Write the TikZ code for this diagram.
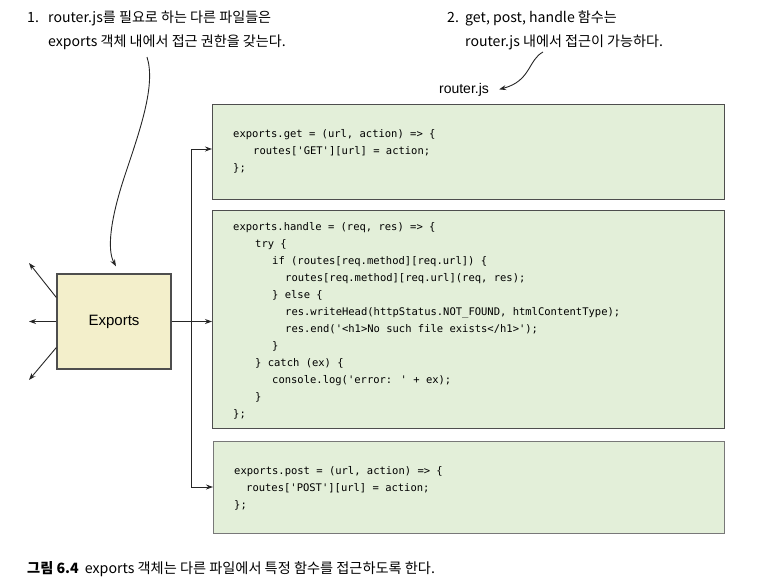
\documentclass[tikz,border=0pt]{standalone}
\usepackage{fontspec}
\usetikzlibrary{arrows.meta,calc}
\newfontfamily\krfont{Noto Sans CJK KR}
\newfontfamily\helv{Liberation Sans}
\newfontfamily\codefont{DejaVu Sans Mono}
\definecolor{boxgreen}{RGB}{227,239,217}
\definecolor{boxyellow}{RGB}{243,239,203}
\definecolor{edge}{RGB}{78,78,78}
\definecolor{postedge}{RGB}{120,120,120}
\begin{document}
\begin{tikzpicture}[x=1pt,y=-1pt,
 arr/.style={-{Stealth[length=7pt,width=5pt]}, line width=0.9pt, draw=black!85},
 wire/.style={line width=0.9pt, draw=black!85},
 codebox/.style={draw=edge, line width=1.4pt, fill=boxgreen, anchor=north west, inner sep=0pt},
 code/.style={anchor=north west, inner sep=0pt, align=left, font=\codefont\fontsize{10.5}{17}\selectfont},
 ann/.style={anchor=base west, inner sep=0pt, font=\krfont\fontsize{14.1}{16}\selectfont},
 expbox/.style={draw=edge, line width=1.3pt, fill=boxyellow, minimum width=114pt, minimum height=95pt, inner sep=0pt, font=\helv\fontsize{15}{18}\selectfont},
]
\useasboundingbox (0,0) rectangle (770,584);

% annotations
\node[ann] (a1a) at (27,22) {\makebox[21pt][l]{1.}router.js를 필요로 하는 다른 파일들은};
\node[ann] (a1b) at (48,46) {exports 객체 내에서 접근 권한을 갖는다.};
\node[ann] (a2a) at (447,22) {\makebox[18pt][l]{2.}get, post, handle 함수는};
\node[ann] (a2b) at (465,46) {router.js 내에서 접근이 가능하다.};
\node[anchor=base, inner sep=0pt, font=\helv\fontsize{14}{16}\selectfont] (rjs) at (464,93) {router.js};

% boxes
\node[codebox, minimum width=512pt, minimum height=95pt] (get) at (212,104) {};
\node[codebox, minimum width=512pt, minimum height=218pt] (handle) at (212,210) {};
\node[codebox, draw=postedge, minimum width=511pt, minimum height=92pt] (post) at (213,441) {};

\node[code] (getcode) at (233,129) {exports.get = (url, action) => \{\\
\hspace*{20pt}routes[\textquotesingle GET\textquotesingle][url] = action;\\
\};};

\node[code] (handlecode) at (233,222) {exports.handle = (req, res) => \{\\
\hspace*{22pt}try \{\\
\hspace*{39pt}if (routes[req.method][req.url]) \{\\
\hspace*{52pt}routes[req.method][req.url](req, res);\\
\hspace*{39pt}\} else \{\\
\hspace*{52pt}res.writeHead(httpStatus.NOT\_FOUND, htmlContentType);\\
\hspace*{52pt}res.end(\textquotesingle<h1>No such file exists</h1>\textquotesingle);\\
\hspace*{39pt}\}\\
\hspace*{22pt}\} catch (ex) \{\\
\hspace*{39pt}console.log(\textquotesingle error: \textquotesingle\ + ex);\\
\hspace*{22pt}\}\\
\};};

\node[code] (postcode) at (234,466) {exports.post = (url, action) => \{\\
\hspace*{12pt}routes[\textquotesingle POST\textquotesingle][url] = action;\\
\};};

% exports
\node[expbox] (exp) at (114,321.5) {Exports};

% connectors
\coordinate (j1) at (191,149);
\coordinate (j2) at (191,487);
\draw[wire] (j1) -- (j2);
\draw[arr] (j1) -- (j1 -| get.west);
\draw[arr] (j2) -- (j2 -| post.west);
\draw[arr] (exp.east) -- (exp.east -| handle.west);

\coordinate (o1) at (29,263);
\coordinate (o2) at (29,321.5);
\coordinate (o3) at (29,380);
\draw[arr] ([yshift=24pt]exp.west) -- (o1);
\draw[arr] (exp.west) -- (o2);
\draw[arr] ([yshift=-26pt]exp.west) -- (o3);

\coordinate (c1s) at (147,57);
\draw[arr] (c1s) .. controls (156,85) and (140,130) .. (125,175)
  .. controls (110,220) and (107,250) .. ([xshift=2pt,yshift=7pt]exp.north);

\coordinate (c2s) at (543,52);
\draw[arr] (c2s) .. controls (528,60) and (531,81) .. ([xshift=10pt]rjs.east);

% caption
\node[anchor=base west, inner sep=0pt, font=\krfont\fontsize{14.2}{16}\selectfont] (cap) at (27,573) {\textbf{그림 6.4}\hspace{6pt}exports 객체는 다른 파일에서 특정 함수를 접근하도록 한다.};
\end{tikzpicture}
\end{document}
